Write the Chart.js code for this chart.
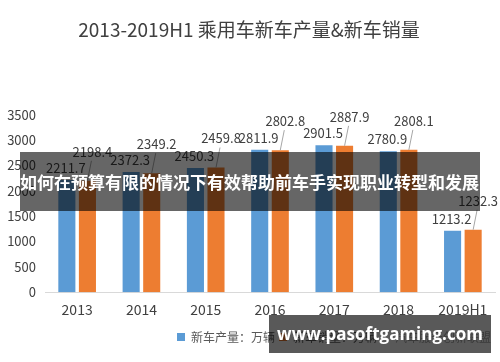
<!DOCTYPE html>
<html>
<head>
<meta charset="utf-8">
<title>乘用车新车产量&新车销量</title>
<script src="https://cdn.jsdelivr.net/npm/chart.js@4.4.0/dist/chart.umd.min.js"></script>
<style>
    html, body { margin: 0; padding: 0; background: #fff; }
    .wrap { position: relative; width: 500px; height: 362px; overflow: hidden; }
    #myChart { display: block; }
    .banner {
        position: absolute; left: 20px; top: 152px; width: 460px; height: 59px;
        background: rgba(0, 0, 0, 0.6); color: #fff;
        font: bold 17px "Noto Sans CJK SC", sans-serif; line-height: 59px;
        white-space: nowrap; overflow: hidden;
    }
    .mark {
        position: absolute; left: 269px; top: 315px; width: 222px; height: 38px;
        background: rgba(0, 0, 0, 0.65); color: #fff;
        font: bold 17px "Open Sans", sans-serif; line-height: 38px;
        text-align: center; white-space: nowrap;
    }
</style>
</head>
<body>
<div class="wrap">
    <canvas id="myChart" width="500" height="362"></canvas>
    <div class="banner">如何在预算有限的情况下有效帮助前车手实现职业转型和发展</div>
    <div class="mark">www.pasoftgaming.com</div>
</div>
<script>
// chart data
const years = ['2013', '2014', '2015', '2016', '2017', '2018', '2019H1'];
const production = [2211.7, 2372.3, 2450.3, 2811.9, 2901.5, 2780.9, 1213.2]; // 新车产量
const sales = [2198.4, 2349.2, 2459.8, 2802.8, 2887.9, 2808.1, 1232.3];      // 新车销量
const seriesNames = ['新车产量：万辆', '新车销量：万辆'];
const sourceNote = '汽车服务创新联盟';
const yMin = 0, yMax = 3500, yStep = 500;

const ctx = document.getElementById('myChart');
Chart.defaults.font.family = '"Noto Sans CJK SC", sans-serif';
Chart.defaults.color = '#404040';

// value labels over the bars, orange ones get a small leader line
const barValueLabels = {
    id: 'barValueLabels',
    afterDatasetsDraw(chart) {
        const c = chart.ctx;
        c.save();
        c.font = '13px "Noto Sans CJK SC", sans-serif';
        c.fillStyle = '#404040';
        c.textAlign = 'center';
        c.textBaseline = 'middle';
        chart.data.datasets.forEach((ds, di) => {
            chart.getDatasetMeta(di).data.forEach((bar, i) => {
                const txt = ds.data[i].toFixed(1);
                if (di === 0) {
                    c.fillText(txt, bar.x - 1, bar.y - 12);
                } else {
                    c.fillText(txt, bar.x + 5, bar.y - 29);
                    c.strokeStyle = '#a6a6a6';
                    c.lineWidth = 1;
                    c.beginPath();
                    c.moveTo(bar.x + 4, bar.y - 20);
                    c.lineTo(bar.x, bar.y);
                    c.stroke();
                }
            });
        });
        c.restore();
    }
};

new Chart(ctx, {
    type: 'bar',
    data: {
        labels: years,
        datasets: [{
            label: seriesNames[0],
            data: production,
            backgroundColor: '#5B9BD5',
            categoryPercentage: 0.64,
            barPercentage: 0.83
        }, {
            label: seriesNames[1],
            data: sales,
            backgroundColor: '#ED7D31',
            categoryPercentage: 0.64,
            barPercentage: 0.83
        }]
    },
    options: {
        responsive: false,
        animation: false,
        devicePixelRatio: 1,
        layout: { padding: { left: 3, right: 5, bottom: 9 } },
        scales: {
            x: {
                grid: { display: false, drawTicks: false },
                border: { display: true, color: '#d9d9d9', width: 1 },
                ticks: { font: { size: 14 }, padding: 9, color: '#404040' }
            },
            y: {
                min: yMin,
                max: yMax,
                afterFit: (scale) => { scale.width = 42; },
                grid: { display: false, drawTicks: false },
                border: { display: false },
                ticks: {
                    stepSize: yStep,
                    font: { size: 13 },
                    padding: 9,
                    color: '#404040',
                    callback: (value) => String(value) // no thousands comma
                }
            }
        },
        plugins: {
            title: {
                display: true,
                text: '2013-2019H1 乘用车新车产量&新车销量',
                font: { size: 19, weight: 'normal' },
                color: '#404040',
                padding: { top: 18, bottom: 74 }
            },
            legend: {
                position: 'bottom',
                align: 'end',
                labels: {
                    boxWidth: 8,
                    boxHeight: 8,
                    padding: 4,
                    font: { size: 12 },
                    color: '#595959',
                    generateLabels: (chart) => {
                        const items = Chart.defaults.plugins.legend.labels.generateLabels(chart);
                        items.push({
                            text: sourceNote,
                            fillStyle: 'rgba(0,0,0,0)',
                            strokeStyle: 'rgba(0,0,0,0)',
                            lineWidth: 0,
                            hidden: false,
                            datasetIndex: -1,
                            fontColor: '#a6a6a6'
                        });
                        return items;
                    }
                }
            },
            tooltip: { enabled: false }
        }
    },
    plugins: [barValueLabels]
});
</script>
</body>
</html>
